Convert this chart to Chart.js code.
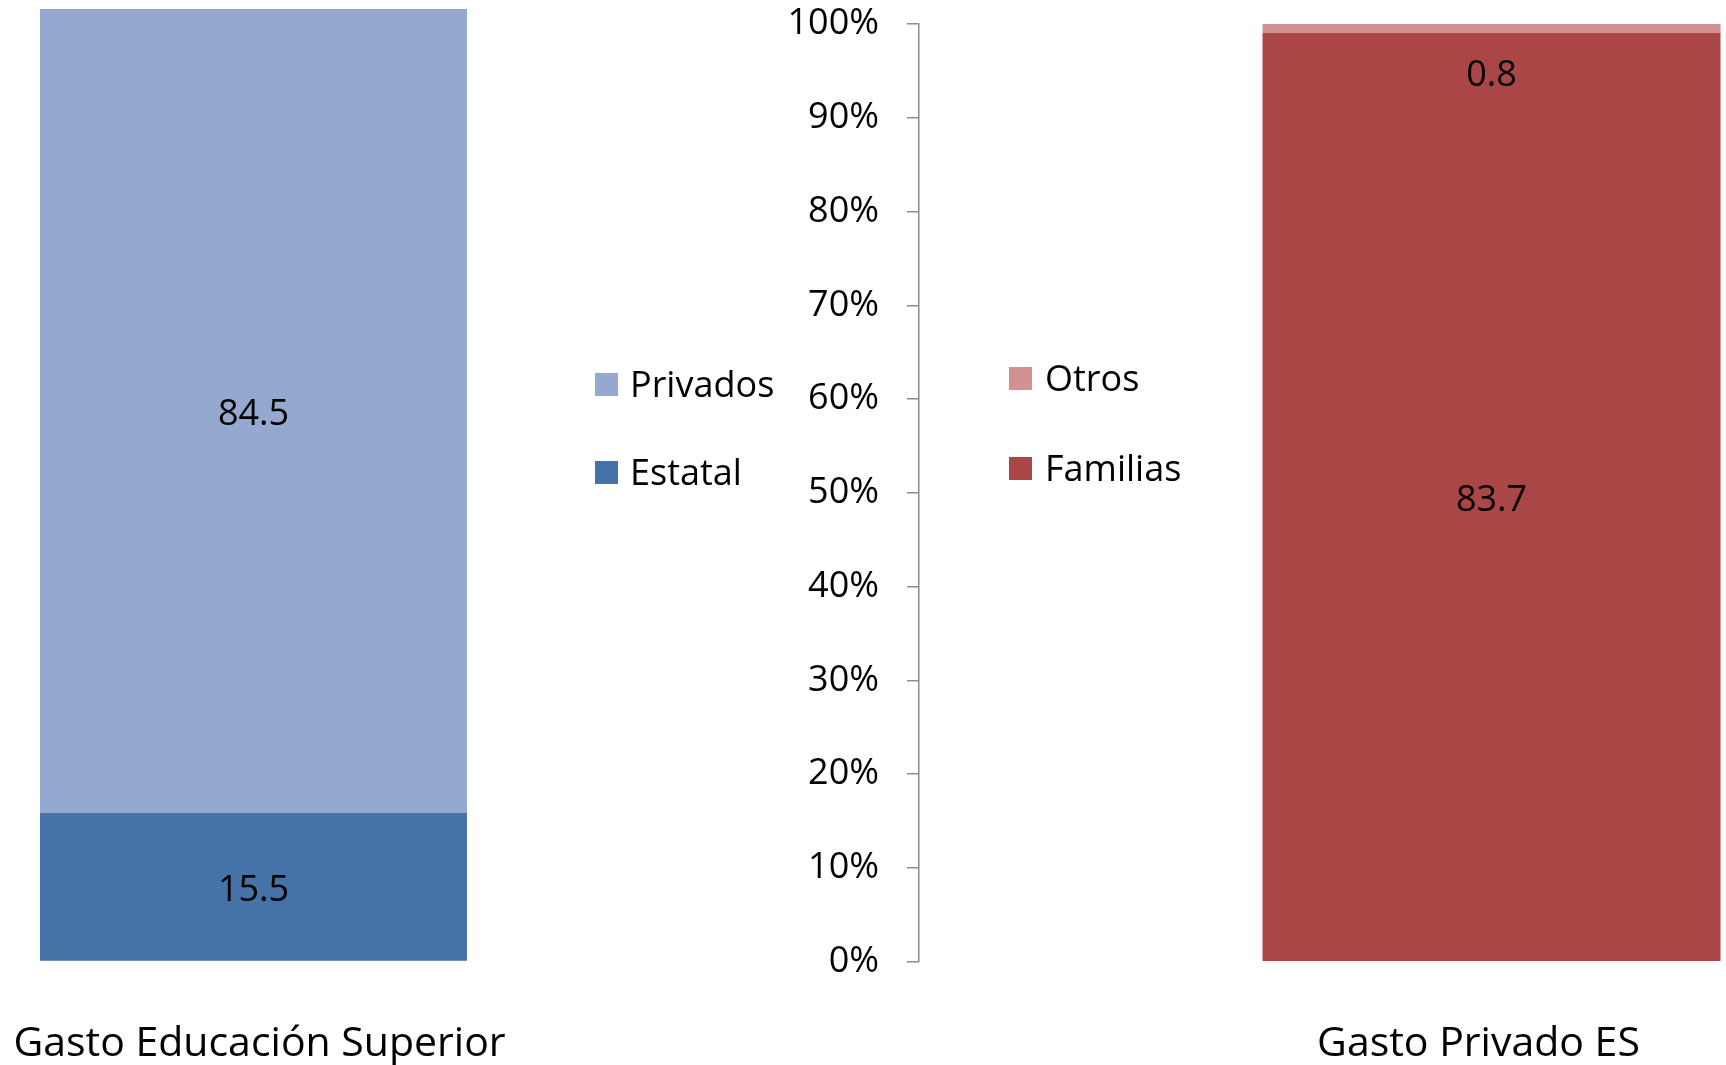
<!DOCTYPE html>
<html>
<head>
<meta charset="utf-8">
<script src="https://cdn.jsdelivr.net/npm/chart.js@4.4.1/dist/chart.umd.min.js"></script>
<style>
html,body{margin:0;padding:0;background:#fff;overflow:hidden;}
#wrap{position:relative;width:1726px;height:1065px;overflow:hidden;background:#fff;font-family:'Open Sans',sans-serif;}
canvas{position:absolute;top:0;}
#cL{left:0;}
#cR{left:760px;}
.lg-box{position:absolute;width:23px;height:23px;}
.lg-txt{position:absolute;font-size:36px;line-height:36px;color:#000;white-space:nowrap;font-family:'Open Sans',sans-serif;}
</style>
</head>
<body>
<div id="wrap">
  <canvas id="cL" width="560" height="1128"></canvas>
  <canvas id="cR" width="1340" height="1127"></canvas>
</div>
<script>
// ---- data ----
const leftCategories = ['Gasto Educación Superior'];
const estatal = [15.5];
const privados = [84.5];

const rightCategories = ['Gasto Privado ES'];
const familias = [83.7];
const otros = [0.8];

const seriesNamesLeft = ['Estatal', 'Privados'];
const seriesNamesRight = ['Familias', 'Otros'];

// ---- styles ----
const COL_ESTATAL = '#4673A7';
const COL_PRIVADOS = '#95A9D0';
const COL_FAMILIAS = '#AA4645';
const COL_OTROS = '#D39291';
const FONT = 'Open Sans';

// 100% stacked shares for the right bar
const totals = familias.map((v, i) => v + otros[i]);
const familiasPct = familias.map((v, i) => v / totals[i] * 100);
const otrosPct = otros.map((v, i) => v / totals[i] * 100);

const valueLabels = {
  id: 'valueLabels',
  afterDatasetsDraw(chart) {
    const ctx = chart.ctx;
    ctx.save();
    ctx.font = '36px "' + FONT + '"';
    ctx.fillStyle = '#000';
    ctx.textAlign = 'center';
    ctx.textBaseline = 'middle';
    chart.data.datasets.forEach((ds, di) => {
      const meta = chart.getDatasetMeta(di);
      meta.data.forEach((el, i) => {
        const txt = ds.labelValues[i].toFixed(1);
        const h = Math.abs(el.base - el.y);
        const y = h < 36 ? el.base + 43 : (el.y + el.base) / 2 + 4;
        ctx.fillText(txt, el.x, y);
      });
    });
    ctx.restore();
  }
};

const noScalePadding = (scale) => {
  scale.paddingLeft = 0; scale.paddingRight = 0;
  scale.paddingTop = 0; scale.paddingBottom = 0;
};

new Chart(document.getElementById('cL'), {
  type: 'bar',
  data: {
    labels: leftCategories,
    datasets: [
      { label: seriesNamesLeft[0], data: estatal, labelValues: estatal, backgroundColor: COL_ESTATAL, barPercentage: 1, categoryPercentage: 1 },
      { label: seriesNamesLeft[1], data: privados, labelValues: privados, backgroundColor: COL_PRIVADOS, barPercentage: 1, categoryPercentage: 1 }
    ]
  },
  options: {
    responsive: false, animation: false, devicePixelRatio: 1, events: [],
    layout: { padding: { left: 40, right: 93, top: 9, bottom: 0 } },
    scales: {
      x: {
        stacked: true,
        afterFit: noScalePadding,
        grid: { display: false, drawTicks: false },
        border: { display: false },
        ticks: { font: { family: FONT, size: 41 }, color: '#000', padding: 59, maxRotation: 0, autoSkip: false, labelOffset: 6 }
      },
      y: { stacked: true, display: false, min: 0, max: 100 }
    },
    plugins: { legend: { display: false }, tooltip: { enabled: false } }
  },
  plugins: [valueLabels]
});

new Chart(document.getElementById('cR'), {
  type: 'bar',
  data: {
    labels: rightCategories,
    datasets: [
      { label: seriesNamesRight[0], data: familiasPct, labelValues: familias, backgroundColor: COL_FAMILIAS, barPercentage: 0.4, categoryPercentage: 1 },
      { label: seriesNamesRight[1], data: otrosPct, labelValues: otros, backgroundColor: COL_OTROS, barPercentage: 0.4, categoryPercentage: 1 }
    ]
  },
  options: {
    responsive: false, animation: false, devicePixelRatio: 1, events: [],
    layout: { padding: { left: 0, right: 36, top: 24, bottom: 0 } },
    scales: {
      x: {
        stacked: true,
        afterFit: noScalePadding,
        grid: { display: false, drawTicks: false },
        border: { display: false },
        ticks: { font: { family: FONT, size: 41 }, color: '#000', padding: 58, maxRotation: 0, autoSkip: false, labelOffset: -13 }
      },
      y: {
        stacked: true, min: 0, max: 100,
        afterFit: (scale) => { scale.width = 159; noScalePadding(scale); },
        grid: { drawOnChartArea: false, drawTicks: true, tickLength: 12, color: '#8c8c8c', lineWidth: 1.5 },
        border: { display: true, color: '#8c8c8c', width: 1.5 },
        ticks: { stepSize: 10, padding: 28, color: '#000', font: { family: FONT, size: 36 }, callback: (v) => v + '%' }
      }
    },
    plugins: { legend: { display: false }, tooltip: { enabled: false } }
  },
  plugins: [valueLabels]
});

// ---- HTML legends (built from the series names / colours) ----
const wrap = document.getElementById('wrap');
function addLegendItem(label, color, boxLeft, boxTop, textLeft) {
  const b = document.createElement('div');
  b.className = 'lg-box';
  b.style.left = boxLeft + 'px'; b.style.top = boxTop + 'px'; b.style.background = color;
  wrap.appendChild(b);
  const t = document.createElement('div');
  t.className = 'lg-txt';
  t.textContent = label;
  t.style.left = textLeft + 'px'; t.style.top = (boxTop + 23 - 30) + 'px';
  wrap.appendChild(t);
}
addLegendItem(seriesNamesLeft[1], COL_PRIVADOS, 595, 373, 630);
addLegendItem(seriesNamesLeft[0], COL_ESTATAL, 595, 461, 630);
addLegendItem(seriesNamesRight[1], COL_OTROS, 1009, 367, 1045);
addLegendItem(seriesNamesRight[0], COL_FAMILIAS, 1009, 457, 1045);
</script>
</body>
</html>
